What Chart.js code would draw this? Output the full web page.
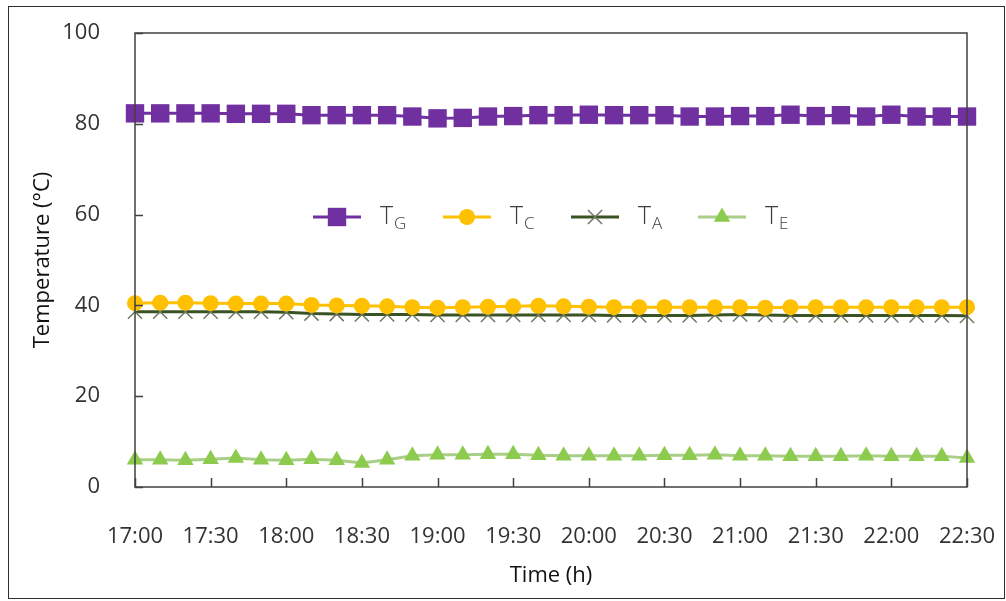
<!DOCTYPE html>
<html><head><meta charset="utf-8">
<script src="https://cdn.jsdelivr.net/npm/chart.js@4.4.1/dist/chart.umd.min.js"></script>
<style>html,body{margin:0;padding:0;background:#fff;} #wrap{width:1006px;height:601px;position:relative;}</style>
</head><body><div id="wrap"><canvas id="c" width="1006" height="601"></canvas></div>
<script>
const times = ['17:00','17:10','17:20','17:30','17:40','17:50','18:00','18:10','18:20','18:30','18:40','18:50',
  '19:00','19:10','19:20','19:30','19:40','19:50','20:00','20:10','20:20','20:30','20:40','20:50',
  '21:00','21:10','21:20','21:30','21:40','21:50','22:00','22:10','22:20','22:30'];
const seriesSubs = ['G','C','A','E'];
const TG = [82.3,82.3,82.3,82.3,82.2,82.2,82.2,81.9,81.9,81.9,81.9,81.6,81.2,81.3,81.6,81.7,81.9,
  81.9,82.0,81.9,81.9,81.9,81.6,81.6,81.7,81.7,82.0,81.7,81.9,81.6,82.0,81.6,81.6,81.6];
const TC = [40.5,40.6,40.6,40.5,40.4,40.4,40.4,40.1,40.0,39.9,39.8,39.6,39.5,39.6,39.7,39.8,39.9,
  39.8,39.7,39.6,39.6,39.6,39.6,39.6,39.6,39.5,39.6,39.6,39.6,39.6,39.6,39.6,39.6,39.6];
const TA = [38.6,38.6,38.6,38.6,38.6,38.6,38.5,38.2,38.1,38.0,38.0,38.0,37.9,37.9,37.9,37.9,37.9,
  37.9,37.9,37.8,37.8,37.8,37.8,37.9,38.0,37.9,37.8,37.8,37.8,37.8,37.8,37.8,37.8,37.7];
const TE = [6.0,6.0,5.9,6.1,6.4,6.0,5.9,6.1,5.9,5.3,6.0,6.9,7.1,7.1,7.2,7.2,7.0,
  6.9,6.9,6.9,6.9,7.0,7.0,7.1,6.9,6.9,6.8,6.8,6.8,6.9,6.8,6.8,6.8,6.4];
const yTicks = [0,20,40,60,80,100];

const FONT = '"Open Sans", "DejaVu Sans", sans-serif';

function drawMarker(ctx, style, r, x, y, fill, stroke, lw) {
  ctx.save();
  ctx.beginPath();
  if (style === 'rect') {
    const s = Math.SQRT1_2 * r;
    ctx.rect(x - s, y - s, 2 * s, 2 * s);
    ctx.fillStyle = fill; ctx.fill();
  } else if (style === 'circle') {
    ctx.arc(x, y, r, 0, Math.PI * 2);
    ctx.fillStyle = fill; ctx.fill();
  } else if (style === 'triangle') {
    let a = 0;
    ctx.moveTo(x + Math.sin(a) * r, y - Math.cos(a) * r);
    a += 2 * Math.PI / 3;
    ctx.lineTo(x + Math.sin(a) * r, y - Math.cos(a) * r);
    a += 2 * Math.PI / 3;
    ctx.lineTo(x + Math.sin(a) * r, y - Math.cos(a) * r);
    ctx.closePath();
    ctx.fillStyle = fill; ctx.fill();
  } else if (style === 'crossRot') {
    const d = Math.SQRT1_2 * r;
    ctx.moveTo(x - d, y - d); ctx.lineTo(x + d, y + d);
    ctx.moveTo(x - d, y + d); ctx.lineTo(x + d, y - d);
    ctx.strokeStyle = stroke; ctx.lineWidth = lw; ctx.stroke();
  }
  ctx.restore();
}

const framePlugin = {
  id: 'framePlugin',
  afterDraw(chart) {
    const ctx = chart.ctx;
    const a = chart.chartArea;
    const xs = chart.scales.x, ys = chart.scales.y;
    ctx.save();
    ctx.strokeStyle = '#303030'; ctx.lineWidth = 1;
    ctx.strokeRect(8.5, 6.5, 996, 592);
    ctx.strokeStyle = '#404040'; ctx.lineWidth = 1.5;
    ctx.strokeRect(a.left, a.top, a.right - a.left, a.bottom - a.top);
    ctx.beginPath();
    for (let i = 0; i < times.length; i += 3) {
      const px = Math.round(xs.getPixelForValue(i)) + 0.5;
      ctx.moveTo(px, a.bottom); ctx.lineTo(px, a.bottom - 9);
    }
    yTicks.forEach(v => {
      const py = Math.round(ys.getPixelForValue(v)) + 0.5;
      ctx.moveTo(a.left, py); ctx.lineTo(a.left + 8, py);
    });
    ctx.stroke();
    const ly = 217;
    const centers = [337, 467, 595, 722];
    chart.data.datasets.forEach((ds, i) => {
      const cx = centers[i];
      ctx.beginPath();
      ctx.strokeStyle = ds.borderColor; ctx.lineWidth = 3;
      ctx.moveTo(cx - 24, ly); ctx.lineTo(cx + 24, ly); ctx.stroke();
      drawMarker(ctx, ds.pointStyle, ds.pointRadius, cx, ly, ds.pointBackgroundColor, ds.pointBorderColor, ds.pointBorderWidth);
      ctx.fillStyle = '#404040';
      ctx.textBaseline = 'alphabetic';
      ctx.textAlign = 'left';
      ctx.font = '300 25px ' + FONT;
      const tx = cx + 43;
      ctx.fillText('T', tx, ly + 7);
      const tw = ctx.measureText('T').width;
      ctx.font = '300 17px ' + FONT;
      ctx.fillText(seriesSubs[i], tx + tw + 1, ly + 12);
    });
    ctx.restore();
  }
};

new Chart(document.getElementById('c'), {
  type: 'line',
  data: {
    labels: times,
    datasets: [
      { label: 'TG', data: TG, borderColor: '#7030A0', borderWidth: 3, pointStyle: 'rect', pointRadius: 13,
        pointBackgroundColor: '#7030A0', pointBorderColor: '#7030A0', pointBorderWidth: 0 },
      { label: 'TC', data: TC, borderColor: '#FFC000', borderWidth: 3, pointStyle: 'circle', pointRadius: 8,
        pointBackgroundColor: '#FFC000', pointBorderColor: '#FFC000', pointBorderWidth: 0 },
      { label: 'TA', data: TA, borderColor: '#3B5323', borderWidth: 3, pointStyle: 'crossRot', pointRadius: 10,
        pointBackgroundColor: '#6F7862', pointBorderColor: '#6F7862', pointBorderWidth: 1.5 },
      { label: 'TE', data: TE, borderColor: '#A9CF86', borderWidth: 3, pointStyle: 'triangle', pointRadius: 9.5,
        pointBackgroundColor: '#8CCB4E', pointBorderColor: '#8CCB4E', pointBorderWidth: 0 }
    ]
  },
  options: {
    responsive: false,
    devicePixelRatio: 1,
    animation: false,
    layout: { padding: { top: 33, right: 39, bottom: 0, left: 0 } },
    plugins: { legend: { display: false }, tooltip: { enabled: false } },
    elements: { line: { tension: 0 } },
    scales: {
      x: {
        type: 'category',
        grid: { display: false, drawTicks: false },
        border: { display: false },
        offset: false,
        ticks: {
          autoSkip: false, maxRotation: 0, minRotation: 0, padding: 37,
          color: '#333333', font: { family: FONT, size: 22 },
          callback: function(v, i) { return i % 3 === 0 ? times[i] : null; }
        },
        title: { display: true, text: 'Time (h)', color: '#111111', font: { family: FONT, size: 22, weight: '500' },
          padding: { top: 0, bottom: 12 } },
        afterFit: function(s) { s.height = 114; s.paddingLeft = 0; s.paddingRight = 0; }
      },
      y: {
        min: 0, max: 100,
        grid: { display: false, drawTicks: false },
        border: { display: false },
        ticks: { stepSize: 20, padding: 35, color: '#333333', font: { family: FONT, size: 22 } },
        title: { display: true, text: 'Temperature (°C)', color: '#111111', font: { family: FONT, size: 22, weight: '500' },
          padding: { top: 30, bottom: 0 } },
        afterFit: function(s) { s.width = 135; s.paddingTop = 0; s.paddingBottom = 0; }
      }
    }
  },
  plugins: [framePlugin]
});
</script></body></html>
